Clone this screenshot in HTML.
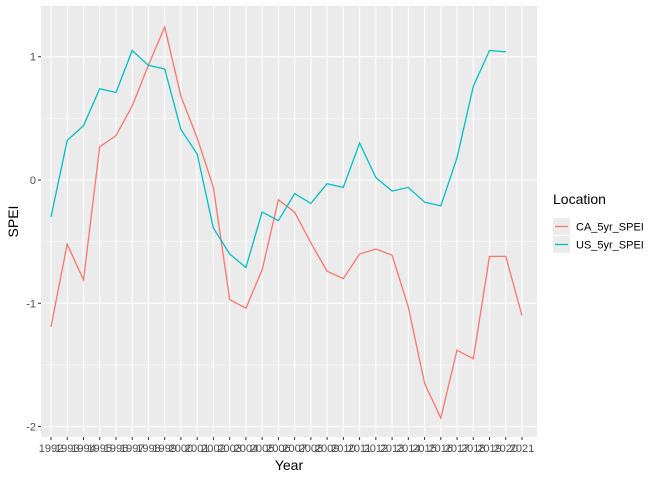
<!DOCTYPE html>
<html><head><meta charset="utf-8"><style>
body{margin:0;background:#fff;font-family:"Liberation Sans",Arial,sans-serif}
</style></head><body>
<svg width="672" height="480" xmlns="http://www.w3.org/2000/svg" font-family="Liberation Sans, Arial, sans-serif">
<g id="chart"></g>
</svg>
<script>
const years=[1992,1993,1994,1995,1996,1997,1998,1999,2000,2001,2002,2003,2004,2005,2006,2007,2008,2009,2010,2011,2012,2013,2014,2015,2016,2017,2018,2019,2020,2021];
const caValues=[-1.19,-0.52,-0.81,0.27,0.36,0.60,0.93,1.24,0.68,0.34,-0.06,-0.97,-1.04,-0.73,-0.16,-0.26,-0.51,-0.74,-0.80,-0.60,-0.56,-0.61,-1.03,-1.65,-1.93,-1.38,-1.45,-0.62,-0.62,-1.10];
const usValues=[-0.30,0.32,0.44,0.74,0.71,1.05,0.93,0.90,0.41,0.21,-0.39,-0.60,-0.71,-0.26,-0.33,-0.11,-0.19,-0.03,-0.06,0.30,0.02,-0.09,-0.06,-0.18,-0.21,0.18,0.76,1.05,1.04,null];
const yTicks=[-2,-1,0,1];
const yMinor=[-1.5,-0.5,0.5];
const NS="http://www.w3.org/2000/svg";
const g=document.getElementById('chart');
const L=41,R=537,T=6,B=437;
const x=v=>51+(v-1992)*(522-51)/29;
const y=v=>180-v*123.3;
function el(t,a,p){const e=document.createElementNS(NS,t);for(const k in a)e.setAttribute(k,a[k]);(p||g).appendChild(e);return e;}
const panel=el('rect',{x:L,y:T,width:R-L,height:B-T,fill:'#ebebeb'});


yMinor.forEach(v=>{const l=el('line',{x1:L,x2:R,y1:y(v),y2:y(v),stroke:'#fff','stroke-width':0.5});

});
yTicks.forEach(v=>{const l=el('line',{x1:L,x2:R,y1:y(v),y2:y(v),stroke:'#fff','stroke-width':1.1});


const tk=el('line',{x1:L-3,x2:L,y1:y(v),y2:y(v),stroke:'#333','stroke-width':1});


const t=el('text',{x:L-5,y:y(v)+4,'text-anchor':'end','font-size':11,fill:'#4d4d4d'});t.textContent=v;

});
years.forEach(v=>{const l=el('line',{x1:x(v),x2:x(v),y1:T,y2:B,stroke:'#fff','stroke-width':1.1});


const tk=el('line',{x1:x(v),x2:x(v),y1:B,y2:B+3,stroke:'#333','stroke-width':1});


const t=el('text',{x:x(v),y:B+15,'text-anchor':'middle','font-size':11,fill:'#4d4d4d'});t.textContent=v;

});
function line(vals,color,name){let d='';let pen=false;vals.forEach((v,i)=>{if(v===null){pen=false;return;}d+=(pen?'L':'M')+x(years[i]).toFixed(1)+','+y(v).toFixed(1);pen=true;});
const p=el('path',{d:d,fill:'none',stroke:color,'stroke-width':1.3});

}
line(caValues,'#F8766D','ca-line');
line(usValues,'#00BFC4','us-line');
const xt=el('text',{x:(L+R)/2,y:470,'text-anchor':'middle','font-size':14,fill:'#000'});xt.textContent='Year';


const yt=el('text',{x:0,y:0,'text-anchor':'middle','font-size':14,fill:'#000',transform:'translate(18,'+(T+B)/2+') rotate(-90)'});yt.textContent='SPEI';


const lt=el('text',{x:553,y:204,'font-size':14,fill:'#000'});lt.textContent='Location';


[['CA_5yr_SPEI','#F8766D',218],['US_5yr_SPEI','#00BFC4',236]].forEach(([n,c,yy])=>{
const k=el('rect',{x:553,y:yy,width:17,height:17,fill:'#ebebeb'});


const kl=el('line',{x1:555,x2:568,y1:yy+8.5,y2:yy+8.5,stroke:c,'stroke-width':1.3});


const t=el('text',{x:576,y:yy+12.5,'font-size':11,fill:'#000'});t.textContent=n;

});
</script>
</body></html>
